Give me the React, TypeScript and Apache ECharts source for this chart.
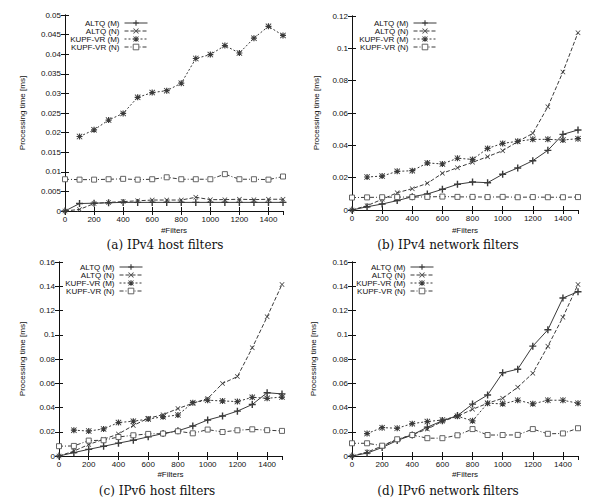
import { useEffect, useRef } from "react";
import * as echarts from "echarts";

// Number of installed filters (x values shared by every panel)
const FILTERS = [0, 100, 200, 300, 400, 500, 600, 700, 800, 900, 1000, 1100, 1200, 1300, 1400, 1500];

const SERIES_NAMES = ["ALTQ (M)", "ALTQ (N)", "KUPF-VR (M)", "KUPF-VR (N)"];

const CAPTIONS = [
  "(a) IPv4 host filters",
  "(b) IPv4 network filters",
  "(c) IPv6 host filters",
  "(d) IPv6 network filters",
];

const Y_MAX = [0.05, 0.12, 0.16, 0.16];
const Y_STEP = [0.005, 0.02, 0.02, 0.02];

// (a) IPv4 host filters
const ipv4HostAltqM = [0, 0.0019, 0.0020, 0.0021, 0.0022, 0.0022, 0.0022, 0.0022, 0.0022, 0.0022, 0.0022, 0.0022, 0.0022, 0.0022, 0.0022, 0.0022];
const ipv4HostAltqN = [0, 0.0004, 0.0019, 0.0022, 0.0024, 0.0026, 0.0028, 0.0028, 0.0028, 0.0035, 0.0029, 0.0029, 0.0030, 0.0029, 0.0030, 0.0030];
const ipv4HostKupfM = [null, 0.0190, 0.0207, 0.0232, 0.0249, 0.0290, 0.0302, 0.0307, 0.0326, 0.0389, 0.0399, 0.0422, 0.0403, 0.0441, 0.0471, 0.0448];
const ipv4HostKupfN = [0.0081, 0.0080, 0.0080, 0.0081, 0.0082, 0.0080, 0.0081, 0.0086, 0.0081, 0.0081, 0.0081, 0.0094, 0.0081, 0.0081, 0.0080, 0.0088];

// (b) IPv4 network filters
const ipv4NetAltqM = [0, 0.0020, 0.0037, 0.0058, 0.0082, 0.0099, 0.0128, 0.0159, 0.0173, 0.0169, 0.0221, 0.0260, 0.0305, 0.0369, 0.0468, 0.0495];
const ipv4NetAltqN = [0, 0.0027, 0.0066, 0.0107, 0.0132, 0.0165, 0.0227, 0.0262, 0.0295, 0.0330, 0.0367, 0.0423, 0.0474, 0.0639, 0.0854, 0.1097];
const ipv4NetKupfM = [null, 0.0204, 0.0210, 0.0239, 0.0243, 0.0291, 0.0285, 0.0320, 0.0313, 0.0381, 0.0412, 0.0425, 0.0437, 0.0437, 0.0433, 0.0441];
const ipv4NetKupfN = [0.0077, 0.0078, 0.0079, 0.0080, 0.0080, 0.0081, 0.0083, 0.0081, 0.0081, 0.0080, 0.0081, 0.0079, 0.0080, 0.0079, 0.0079, 0.0080];

// (c) IPv6 host filters
const ipv6HostAltqM = [0, 0.0028, 0.0055, 0.0080, 0.0106, 0.0130, 0.0158, 0.0185, 0.0208, 0.0247, 0.0297, 0.0330, 0.0370, 0.0425, 0.0522, 0.0512];
const ipv6HostAltqN = [0, 0.0040, 0.0095, 0.0138, 0.0182, 0.0252, 0.0311, 0.0341, 0.0391, 0.0435, 0.0474, 0.0598, 0.0655, 0.0892, 0.1148, 0.1415];
const ipv6HostKupfM = [null, 0.0213, 0.0206, 0.0223, 0.0276, 0.0287, 0.0305, 0.0323, 0.0338, 0.0440, 0.0460, 0.0454, 0.0449, 0.0484, 0.0476, 0.0486];
const ipv6HostKupfN = [0.0081, 0.0083, 0.0127, 0.0130, 0.0157, 0.0171, 0.0182, 0.0185, 0.0204, 0.0187, 0.0218, 0.0198, 0.0212, 0.0220, 0.0213, 0.0207];

// (d) IPv6 network filters
const ipv6NetAltqM = [0, 0.0024, 0.0070, 0.0128, 0.0173, 0.0238, 0.0290, 0.0333, 0.0428, 0.0503, 0.0686, 0.0716, 0.0906, 0.1041, 0.1303, 0.1355];
const ipv6NetAltqN = [0, 0.0032, 0.0082, 0.0135, 0.0176, 0.0222, 0.0286, 0.0328, 0.0385, 0.0435, 0.0476, 0.0567, 0.0683, 0.0906, 0.1145, 0.1415];
const ipv6NetKupfM = [null, 0.0185, 0.0234, 0.0229, 0.0267, 0.0284, 0.0297, 0.0328, 0.0290, 0.0435, 0.0430, 0.0460, 0.0430, 0.0460, 0.0460, 0.0435];
const ipv6NetKupfN = [0.0105, 0.0105, 0.0085, 0.0138, 0.0173, 0.0147, 0.0147, 0.0171, 0.0222, 0.0173, 0.0173, 0.0174, 0.0222, 0.0183, 0.0186, 0.0229];

const PANEL_VALUES = [
  [ipv4HostAltqM, ipv4HostAltqN, ipv4HostKupfM, ipv4HostKupfN],
  [ipv4NetAltqM, ipv4NetAltqN, ipv4NetKupfM, ipv4NetKupfN],
  [ipv6HostAltqM, ipv6HostAltqN, ipv6HostKupfM, ipv6HostKupfN],
  [ipv6NetAltqM, ipv6NetAltqN, ipv6NetKupfM, ipv6NetKupfN],
];

// Panel placement on the 593x501 canvas
const LAYOUT = [
  { grid: { left: 65, top: 15, width: 218, height: 196 }, legendRight: 445, legendTop: 19, yNameGap: 39, xNameGap: 15, capX: 165, capY: 245 },
  { grid: { left: 352, top: 16, width: 226, height: 194 }, legendRight: 156, legendTop: 19, yNameGap: 32, xNameGap: 16, capX: 448, capY: 245 },
  { grid: { left: 59, top: 262, width: 223, height: 194 }, legendRight: 450, legendTop: 263, yNameGap: 33, xNameGap: 14, capX: 157, capY: 491 },
  { grid: { left: 352, top: 262, width: 226, height: 194 }, legendRight: 159, legendTop: 263, yNameGap: 35, xNameGap: 14, capX: 448, capY: 491 },
];

// gnuplot-like point types: +, x, * and open square
const PLUS = "path://M4,0h2v4h4v2h-4v4h-2v-4h-4v-2h4z";
const CROSS = "path://M0,1L1,0L5,4L9,0L10,1L6,5L10,9L9,10L5,6L1,10L0,9L4,5Z";
const STAR = PLUS + " M0,1L1,0L5,4L9,0L10,1L6,5L10,9L9,10L5,6L1,10L0,9L4,5Z";

const INK = "#111";
const LINE = "#3a3a3a";

const SERIES_STYLE = [
  { symbol: PLUS, symbolSize: 7, dash: "solid" as any, fill: LINE, border: LINE, borderWidth: 0 },
  { symbol: CROSS, symbolSize: 5, dash: [4, 2], fill: LINE, border: LINE, borderWidth: 0 },
  { symbol: STAR, symbolSize: 6, dash: [2, 2], fill: LINE, border: LINE, borderWidth: 0 },
  { symbol: "rect", symbolSize: 5, dash: [4, 2, 1, 2], fill: "#fff", border: "#555", borderWidth: 0.9 },
];

const FONT = "Liberation Sans";

const plainNumber = (v: number) => String(v);

function buildOption() {
  const grid: any[] = [];
  const xAxis: any[] = [];
  const yAxis: any[] = [];
  const legend: any[] = [];
  const series: any[] = [];
  const graphic: any[] = [];

  const tick = { inside: true, length: 4, lineStyle: { color: INK, width: 1 } };
  const axisLine = { show: true, lineStyle: { color: INK, width: 1 } };

  LAYOUT.forEach((p, i) => {
    grid.push({ ...p.grid, containLabel: false });

    xAxis.push({
      gridIndex: i,
      type: "value",
      min: 0,
      max: 1500,
      interval: 200,
      name: "#Filters",
      nameLocation: "middle",
      nameGap: p.xNameGap,
      nameTextStyle: { fontSize: 8, color: INK, fontFamily: FONT },
      axisLine,
      axisTick: tick,
      axisLabel: { fontSize: 8, margin: 4, color: INK, fontFamily: FONT, showMaxLabel: false, hideOverlap: false, formatter: plainNumber },
      splitLine: { show: false },
    });
    xAxis.push({
      gridIndex: i,
      type: "value",
      position: "top",
      min: 0,
      max: 1500,
      interval: 200,
      axisLine,
      axisTick: tick,
      axisLabel: { show: false },
      splitLine: { show: false },
    });

    yAxis.push({
      gridIndex: i,
      type: "value",
      min: 0,
      max: Y_MAX[i],
      interval: Y_STEP[i],
      name: "Processing time [ms]",
      nameLocation: "middle",
      nameGap: p.yNameGap,
      nameTextStyle: { fontSize: 8, color: INK, fontFamily: FONT },
      axisLine,
      axisTick: tick,
      axisLabel: { fontSize: 8, margin: 4, color: INK, fontFamily: FONT, hideOverlap: false, formatter: plainNumber },
      splitLine: { show: false },
    });
    yAxis.push({
      gridIndex: i,
      type: "value",
      position: "right",
      min: 0,
      max: Y_MAX[i],
      interval: Y_STEP[i],
      axisLine,
      axisTick: tick,
      axisLabel: { show: false },
      splitLine: { show: false },
    });

    legend.push({
      data: SERIES_NAMES.map((name, k) => ({
        name,
        itemStyle: {
          color: SERIES_STYLE[k].fill,
          borderColor: SERIES_STYLE[k].border,
          borderWidth: SERIES_STYLE[k].borderWidth,
        },
        lineStyle: { width: 1, color: LINE, type: SERIES_STYLE[k].dash },
      })),
      orient: "vertical",
      align: "right",
      right: p.legendRight,
      top: p.legendTop,
      padding: 0,
      itemGap: 0,
      itemWidth: 23,
      itemHeight: 7,
      selectedMode: false,
      textStyle: { fontSize: 8, lineHeight: 8, color: INK, fontFamily: FONT },
    });

    PANEL_VALUES[i].forEach((vals, k) => {
      const st = SERIES_STYLE[k];
      const data = FILTERS.map((f, j) => [f, vals[j]]).filter((d) => d[1] !== null);
      series.push({
        name: SERIES_NAMES[k],
        type: "line",
        xAxisIndex: i * 2,
        yAxisIndex: i * 2,
        data,
        symbol: st.symbol,
        symbolSize: st.symbolSize,
        showAllSymbol: true,
        lineStyle: { color: LINE, width: 1, type: st.dash },
        itemStyle: { color: st.fill, borderColor: st.border, borderWidth: st.borderWidth },
        emphasis: { disabled: true },
        z: 2 + k,
      });
    });

    graphic.push({
      type: "text",
      x: p.capX,
      y: p.capY,
      style: {
        text: CAPTIONS[i],
        align: "center",
        verticalAlign: "middle",
        font: '12px "DejaVu Serif"',
        fill: INK,
      },
    });
  });

  return {
    animation: false,
    backgroundColor: "#fff",
    textStyle: { fontFamily: FONT },
    grid,
    xAxis,
    yAxis,
    legend,
    series,
    graphic,
  };
}

export default function App() {
  const ref = useRef<HTMLDivElement>(null);

  useEffect(() => {
    if (!ref.current) return;
    const chart = echarts.init(ref.current, null, { renderer: "svg" });
    chart.setOption(buildOption() as any);
    return () => chart.dispose();
  }, []);

  return (
    <div
      ref={ref}
      style={{ position: "fixed", left: 0, top: 0, width: 593, height: 501, background: "#fff" }}
    />
  );
}
